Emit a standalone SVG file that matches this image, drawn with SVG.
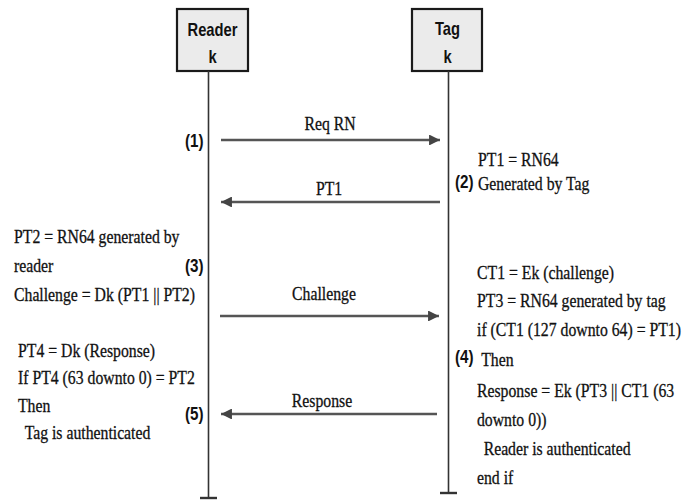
<svg xmlns="http://www.w3.org/2000/svg" width="686" height="500" viewBox="0 0 686 500">
<defs>
<style>
.box{fill:#ebebeb;stroke:#1a1a1a;stroke-width:2.2}
.life{stroke:#333;stroke-width:1.6;fill:none}
.tee{stroke:#333;stroke-width:2.4;fill:none}
.msg{stroke:#555;stroke-width:2.6;fill:none}
.hd{font-family:'Liberation Sans',Arial,sans-serif;font-weight:bold;font-size:18px;fill:#111;text-anchor:middle}
.num{font-family:'Liberation Sans',Arial,sans-serif;font-weight:bold;font-size:19px;fill:#111}
.tx{font-family:'Liberation Serif','DejaVu Serif',serif;font-size:19px;fill:#111;stroke:#111;stroke-width:0.3}
.lbl{font-family:'Liberation Serif','DejaVu Serif',serif;font-size:19px;fill:#111;stroke:#111;stroke-width:0.3;text-anchor:middle}
</style>
<marker id="ah" viewBox="0 0 10 10" refX="10" refY="5" markerWidth="4.2" markerHeight="4.2" orient="auto" markerUnits="strokeWidth">
<path d="M0,0 L10,5 L0,10 Z" fill="#444"/>
</marker>
</defs>
<rect width="686" height="500" fill="#fff"/>
<g id="reader">
<rect class="box" x="177" y="9" width="71" height="62"/>
<text class="hd" transform="translate(212.5,0) scale(0.82,1)" x="0" y="36">Reader</text>
<text class="hd" transform="translate(212.5,0) scale(0.82,1)" x="0" y="63">k</text>
<line class="life" x1="208.5" y1="71" x2="208.5" y2="498"/>
<line class="tee" x1="200" y1="498" x2="217" y2="498"/>
</g>
<g id="tag">
<rect class="box" x="412" y="9" width="70" height="62"/>
<text class="hd" transform="translate(447.5,0) scale(0.82,1)" x="0" y="35">Tag</text>
<text class="hd" transform="translate(447.5,0) scale(0.82,1)" x="0" y="63">k</text>
<line class="life" x1="448.5" y1="71" x2="448.5" y2="493"/>
<line class="tee" x1="440" y1="493" x2="457" y2="493"/>
</g>
<g id="connectors">
<line class="msg" x1="221" y1="140" x2="440" y2="140" marker-end="url(#ah)"/>
<text class="lbl" transform="translate(330,0) scale(0.83,1)" x="0" y="130">Req RN</text>
<line class="msg" x1="440" y1="202" x2="221" y2="202" marker-end="url(#ah)"/>
<text class="lbl" transform="translate(329,0) scale(0.83,1)" x="0" y="195">PT1</text>
<line class="msg" x1="220" y1="316" x2="439" y2="316" marker-end="url(#ah)"/>
<text class="lbl" transform="translate(324,0) scale(0.83,1)" x="0" y="300">Challenge</text>
<line class="msg" x1="437" y1="414" x2="221" y2="414" marker-end="url(#ah)"/>
<text class="lbl" transform="translate(322,0) scale(0.83,1)" x="0" y="407">Response</text>
</g>
<g id="steps">
<text class="num" transform="translate(185,0) scale(0.8,1)" x="0" y="147">(1)</text>
<text class="num" transform="translate(455,0) scale(0.8,1)" x="0" y="188">(2)</text>
<text class="num" transform="translate(185,0) scale(0.8,1)" x="0" y="272">(3)</text>
<text class="num" transform="translate(455,0) scale(0.8,1)" x="0" y="363">(4)</text>
<text class="num" transform="translate(185,0) scale(0.8,1)" x="0" y="420">(5)</text>
</g>
<g id="notes">
<text class="tx" transform="translate(478,0) scale(0.83,1)">
<tspan x="0" y="166">PT1 = RN64</tspan>
<tspan x="0" y="190">Generated by Tag</tspan>
</text>
<text class="tx" transform="translate(14,0) scale(0.83,1)">
<tspan x="0" y="243">PT2 = RN64 generated by</tspan>
<tspan x="0" y="272">reader</tspan>
<tspan x="0" y="301">Challenge = Dk (PT1 || PT2)</tspan>
</text>
<text class="tx" transform="translate(18,0) scale(0.83,1)">
<tspan x="0" y="357">PT4 = Dk (Response)</tspan>
<tspan x="0" y="384">If PT4 (63 downto 0) = PT2</tspan>
<tspan x="0" y="412">Then</tspan>
<tspan x="8" y="439">Tag is authenticated</tspan>
</text>
<text class="tx" transform="translate(477,0) scale(0.83,1)">
<tspan x="0" y="279">CT1 = Ek (challenge)</tspan>
<tspan x="0" y="307">PT3 = RN64 generated by tag</tspan>
<tspan x="0" y="336">if (CT1 (127 downto 64) = PT1)</tspan>
<tspan x="5" y="366">Then</tspan>
<tspan x="0" y="397">Response = Ek (PT3 || CT1 (63</tspan>
<tspan x="0" y="426">downto 0))</tspan>
<tspan x="8" y="455">Reader is authenticated</tspan>
<tspan x="0" y="484">end if</tspan>
</text>
</g>
</svg>
